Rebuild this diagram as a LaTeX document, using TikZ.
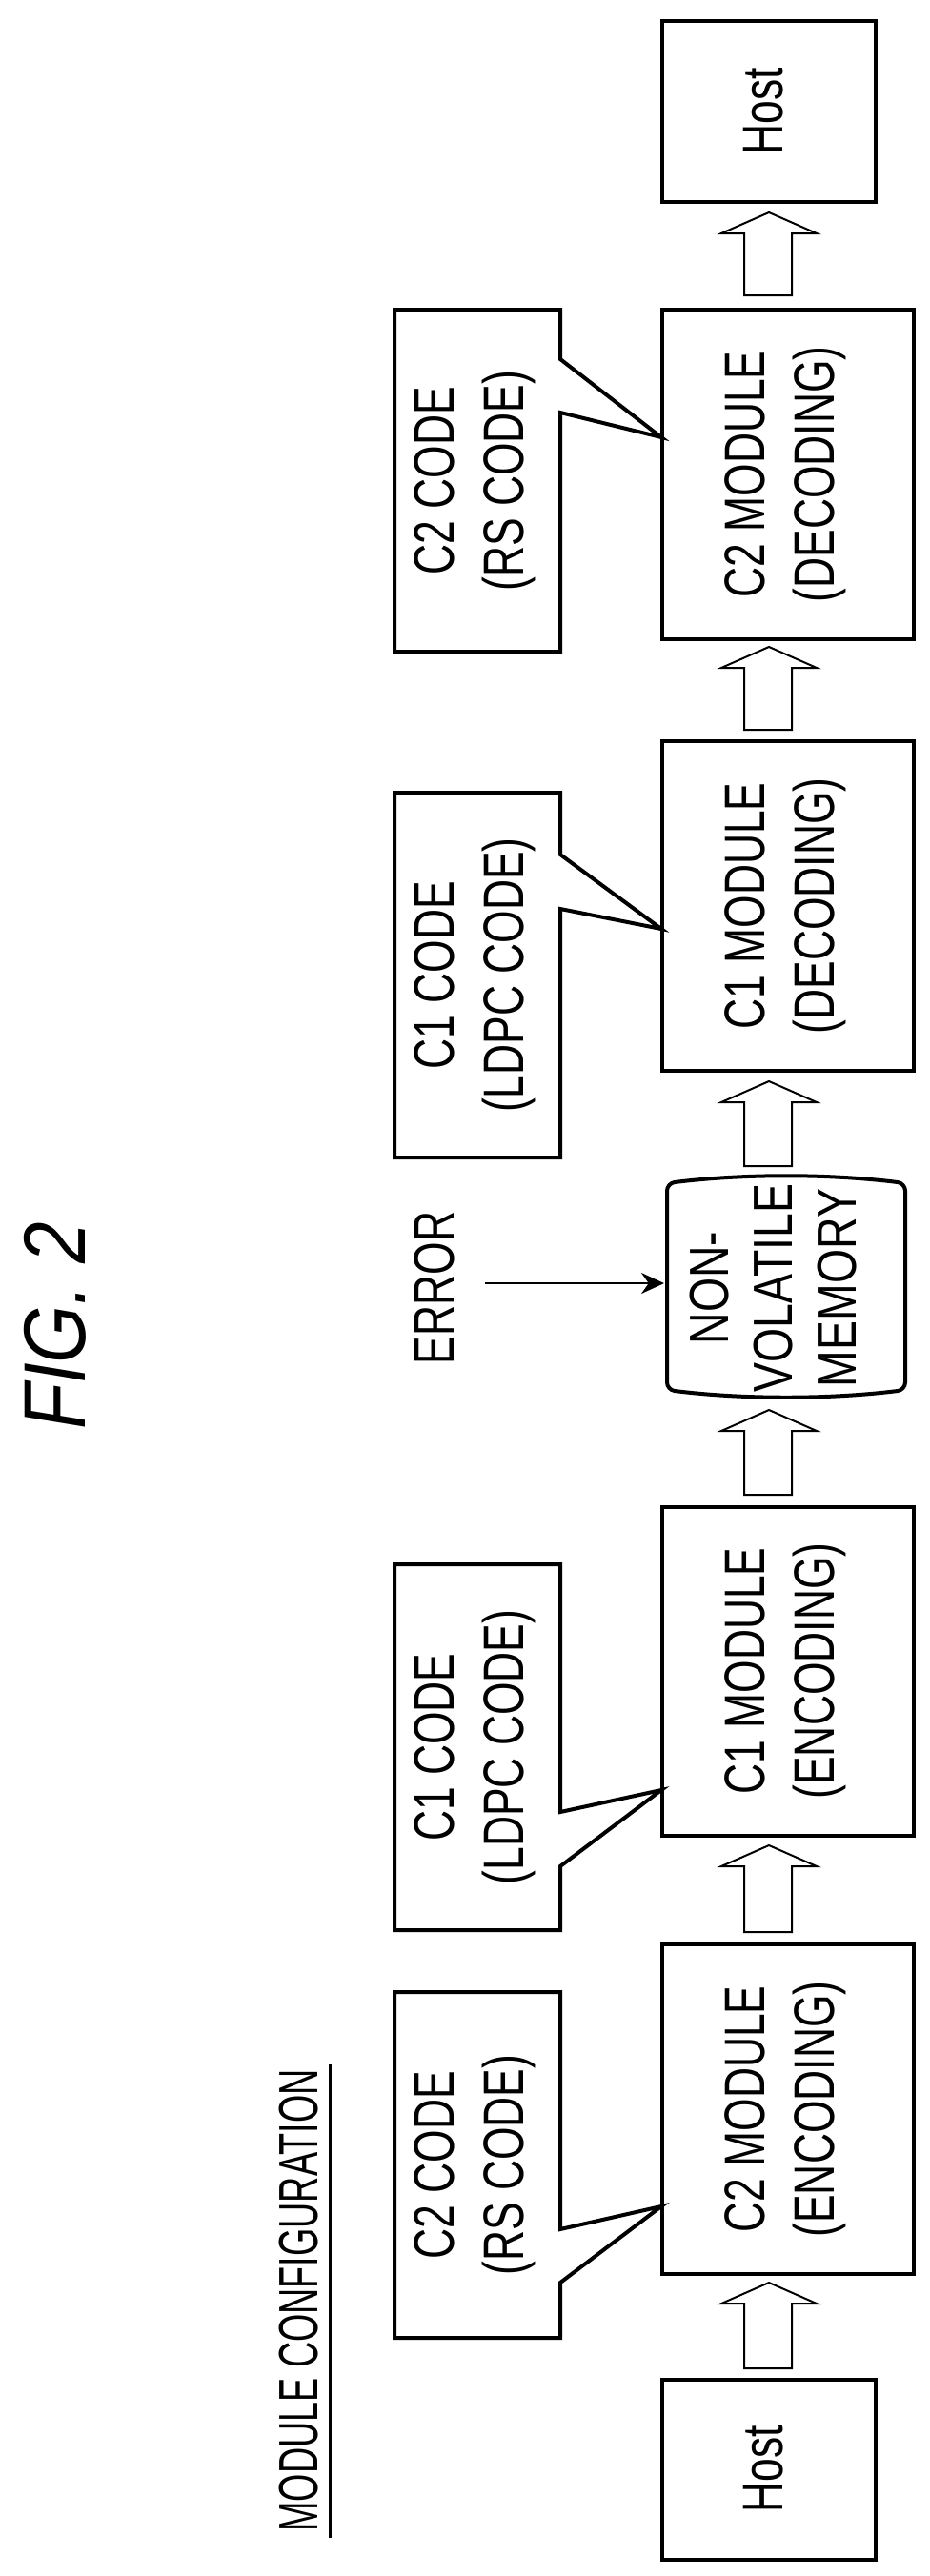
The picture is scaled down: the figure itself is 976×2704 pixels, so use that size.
\documentclass[tikz,border=0pt]{standalone}
\usetikzlibrary{arrows.meta}
\usepackage{fontspec}
\setmainfont{Liberation Sans}
\begin{document}
\newcommand{\nt}[2][0.74]{\scalebox{#1}[1]{\begin{tabular}{@{}c@{}}#2\end{tabular}}}
\begin{tikzpicture}[x=1pt,y=-1pt,
  txt/.style={rotate=90,font=\fontsize{60}{73}\selectfont,inner sep=0pt},
  harrow/.style={draw,line width=2pt,fill=white},
  call/.style={draw,line width=4pt,line join=miter}]
\useasboundingbox (0,0) rectangle (976,2704);
% Module boxes
\draw[line width=4pt] (695,22) rectangle (919,212); \node[txt] (h2) at (807,117) {\nt{Host}};
\draw[line width=4pt] (695,325) rectangle (959,671); \node[txt] (m4) at (824,498) {\nt{C2 MODULE\\(DECODING)}};
\draw[line width=4pt] (695,778) rectangle (959,1124); \node[txt] (m3) at (824,951) {\nt{C1 MODULE\\(DECODING)}};
\draw[line width=4pt] (695,1582) rectangle (959,1927); \node[txt] (m2) at (824,1754) {\nt{C1 MODULE\\(ENCODING)}};
\draw[line width=4pt] (695,2041) rectangle (959,2387); \node[txt] (m1) at (824,2214) {\nt{C2 MODULE\\(ENCODING)}};
\draw[line width=4pt] (695,2498) rectangle (919,2687); \node[txt] (h1) at (807,2592) {\nt{Host}};
% NVM
\draw[line width=4pt,rounded corners=8pt] (700,1242) .. controls (780,1232) and (870,1232) .. (950,1242) -- (950,1459) .. controls (870,1469) and (780,1469) .. (700,1459) -- cycle;
\node[txt,font=\fontsize{58}{67}\selectfont] (nvm) at (818,1352) {\nt[0.8]{NON-\\VOLATILE\\MEMORY}};
% Error
\node[txt] (err) at (462,1352) {\nt{ERROR}};
\coordinate (e1) at (509,1347);
\coordinate (e2) at (697,1347);
\draw[line width=2pt,-{Stealth[length=24pt,width=22pt]}] (e1) -- (e2);
% FIG 2
\node[rotate=90,font=\fontsize{92}{92}\selectfont\itshape,inner sep=0pt] (fig) at (58,1392) {\scalebox{0.85}[1]{FIG. 2}};
% module configuration
\node[rotate=90,font=\fontsize{58}{60}\selectfont,inner sep=0pt] (mc) at (314,2415) {\scalebox{0.65}[1]{MODULE CONFIGURATION}};
\draw[line width=3pt] (346,2167) -- (346,2664);
% hollow arrows
\foreach \t/\b in {223/310,679/766,1135/1224,1480/1569,1937/2028,2396/2486}{
  \draw[harrow] (781,\b) -- (781,\t+22) -- (757,\t+22) -- (807,\t) -- (857,\t+22) -- (831,\t+22) -- (831,\b) -- cycle;
}
% callouts
\foreach \a/\bb/\na/\nb/\tp/\lab in {325/684/377/433/459/{C2 CODE\\(RS CODE)},832/1215/897/954/975/{C1 CODE\\(LDPC CODE)},1642/2026/1902/1959/1879/{C1 CODE\\(LDPC CODE)},2091/2454/2340/2396/2316/{C2 CODE\\(RS CODE)}}{
  \draw[call] (588,\na) -- (588,\a) -- (414,\a) -- (414,\bb) -- (588,\bb) -- (588,\nb) -- (694,\tp) -- cycle;
  \node[txt] at (498,{(\a+\bb)/2}) {\nt{\lab}};
}
\end{tikzpicture}
\end{document}
